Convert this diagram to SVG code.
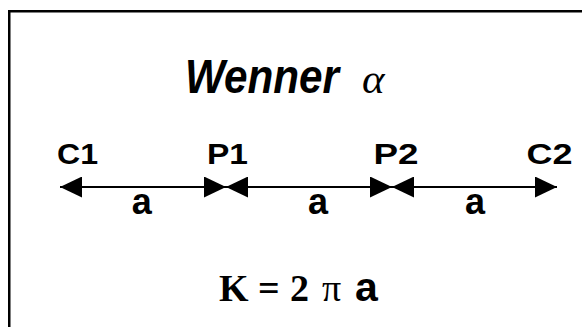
<svg xmlns="http://www.w3.org/2000/svg" width="582" height="327" viewBox="0 0 582 327">
<style>
.lbl{font-family:"Liberation Sans",Arial,sans-serif;font-weight:bold;font-size:29px;fill:#000}
.a{font-family:"Liberation Sans",Arial,sans-serif;font-weight:bold;font-size:36px;fill:#000;text-anchor:middle}
.shaft{stroke:#000;stroke-width:2;fill:none}
</style>
<defs>
<marker id="ah" markerUnits="userSpaceOnUse" markerWidth="22" markerHeight="21" refX="22" refY="10.5" orient="auto-start-reverse">
<path d="M0,0 L22,10.5 L0,21 Z" fill="#000"/>
</marker>
</defs>
<rect x="0" y="0" width="582" height="327" fill="#fff"/>
<rect x="9.25" y="11.25" width="620" height="360" fill="none" stroke="#000" stroke-width="2.5"/>
<g id="title">
<text x="185" y="93" font-family="Liberation Sans,Arial,sans-serif" font-weight="bold" font-style="italic" font-size="49" textLength="154" lengthAdjust="spacingAndGlyphs">Wenner</text>
<text x="362" y="93" font-family="Liberation Serif,Times New Roman,serif" font-style="italic" font-size="43">α</text>
</g>
<g id="C1"><text class="lbl" x="57" y="164" textLength="41" lengthAdjust="spacingAndGlyphs">C1</text></g>
<g id="P1"><text class="lbl" x="207" y="164" textLength="41" lengthAdjust="spacingAndGlyphs">P1</text></g>
<g id="P2"><text class="lbl" x="373.5" y="164" textLength="45" lengthAdjust="spacingAndGlyphs">P2</text></g>
<g id="C2"><text class="lbl" x="526.5" y="164" textLength="46" lengthAdjust="spacingAndGlyphs">C2</text></g>
<g id="connectors">
<line class="shaft" x1="60" y1="187" x2="226" y2="187" marker-start="url(#ah)" marker-end="url(#ah)"/>
<line class="shaft" x1="226" y1="187" x2="392" y2="187" marker-start="url(#ah)" marker-end="url(#ah)"/>
<line class="shaft" x1="392" y1="187" x2="557" y2="187" marker-start="url(#ah)" marker-end="url(#ah)"/>
<text class="a" x="141.7" y="214">a</text>
<text class="a" x="318" y="214">a</text>
<text class="a" x="475" y="214">a</text>
</g>
<g id="formula">
<text y="301" font-family="Liberation Serif,Times New Roman,serif" font-weight="bold" font-size="38"><tspan x="219">K</tspan><tspan x="258">=</tspan><tspan x="290">2</tspan></text>
<text x="322" y="301" font-family="Liberation Serif,Times New Roman,serif" font-size="38">π</text>
<text x="355" y="301" font-family="Liberation Sans,Arial,sans-serif" font-weight="bold" font-size="41">a</text>
</g>
</svg>
